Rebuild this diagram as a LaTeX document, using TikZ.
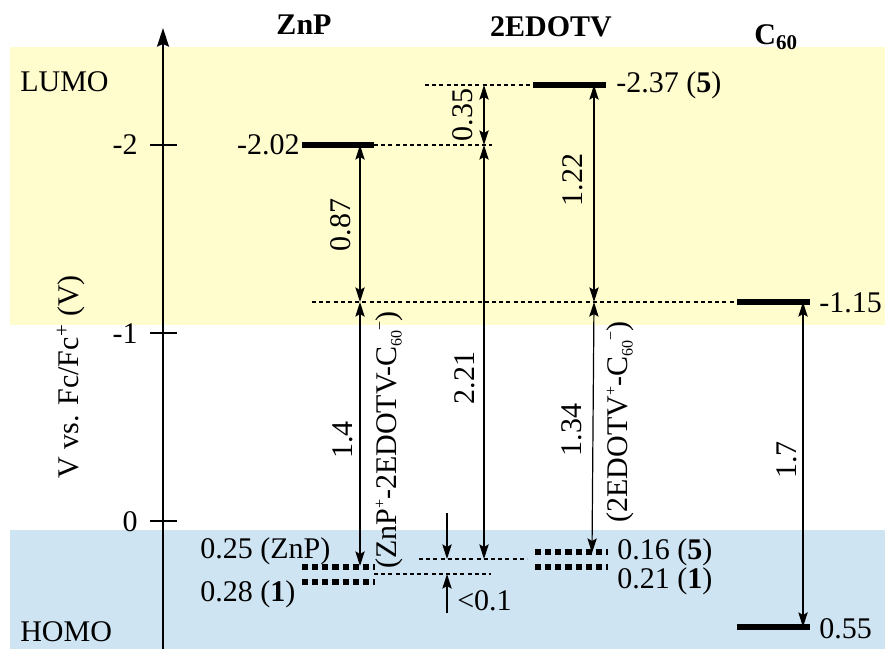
\documentclass[tikz,border=0pt]{standalone}
\usepackage{fontspec}
\setmainfont{Liberation Serif}
\usetikzlibrary{arrows.meta}
\definecolor{lumoY}{RGB}{255,252,206}
\definecolor{homoB}{RGB}{207,228,242}
\newcommand{\lvup}[1]{\raisebox{8.5pt}{\fontsize{12}{12}\selectfont #1}}
\newcommand{\lvdn}[1]{\raisebox{-4pt}{\fontsize{12}{12}\selectfont #1}}
\tikzset{
  lvl/.style={line width=3.8pt},
  dlvl/.style={line width=4.4pt,dash pattern=on 4.6pt off 3pt},
  guide/.style={line width=1pt,dash pattern=on 3pt off 2.4pt},
  tip/.style={-{Stealth[length=11pt,width=7pt,inset=2pt]}},
  dbl/.style={line width=0.9pt,{Stealth[length=11pt,width=7pt,inset=2pt]}-{Stealth[length=11pt,width=7pt,inset=2pt]}},
  one/.style={line width=0.9pt,tip},
  lbl/.style={font=\fontsize{22.5}{26}\selectfont,inner sep=0pt},
  rlbl/.style={lbl,rotate=90},
  hdr/.style={lbl,font=\fontsize{22.5}{26}\selectfont\bfseries}
}
\begin{document}
\begin{tikzpicture}[x=0.75pt,y=-0.75pt]
\useasboundingbox (0,0) rectangle (885,649);
% bands
\fill[lumoY] (10,47) rectangle (885,325);
\fill[homoB] (10,530) rectangle (885,649);
\node[lbl,anchor=base west] (lumo) at (20,92) {LUMO};
\node[lbl,anchor=base west] (homo) at (20,641) {HOMO};
% axis
\coordinate (axb) at (163,649);
\coordinate (axt) at (163,28);
\draw[line width=1.1pt,-{Stealth[length=14pt,width=9pt,inset=2pt]}] (axb) -- (axt);
\foreach \v/\y in {-2/145,-1/333,0/521}{
  \draw[line width=1.1pt] (150,\y) -- (177,\y);
  \node[lbl,anchor=base east] at (138,\y+10) {\v};
}
\node[rlbl] (ylab) at (71,377) {V vs. Fc/Fc\textsuperscript{+} (V)};
% headers
\node[hdr,anchor=base] (hz) at (304,35) {ZnP};
\node[hdr,anchor=base] (he) at (551,37) {2EDOTV};
\node[hdr,anchor=base] (hc) at (776,45) {C\textsubscript{60}};
% coordinates
\coordinate (zL1) at (302,145); \coordinate (zL2) at (374,145);
\coordinate (eL1) at (533,85);  \coordinate (eL2) at (606,85);
\coordinate (cL1) at (737,302); \coordinate (cL2) at (810,302);
\coordinate (cH1) at (737,627); \coordinate (cH2) at (810,627);
% guide lines
\coordinate (g1) at (425,85);
\coordinate (g2) at (492,145);
\coordinate (g3) at (312,302);
\coordinate (g4) at (419,559); \coordinate (g5) at (527,559);
\coordinate (g6) at (374,574); \coordinate (g7) at (491,574);
\draw[guide] (g1) -- (eL1);
\draw[guide] (zL2) -- (g2);
\draw[guide] (g3) -- (cL1);
\draw[guide] (g4) -- (g5);
\draw[guide] (g6) -- (g7);
% levels
\draw[lvl] (zL1) -- (zL2);
\draw[lvl] (eL1) -- (eL2);
\draw[lvl] (cL1) -- (cL2);
\draw[lvl] (cH1) -- (cH2);
\draw[dlvl] (302,567) -- (375,567);
\draw[dlvl] (302,582) -- (375,582);
\draw[dlvl] (535,552) -- (608,552);
\draw[dlvl] (535,567) -- (608,567);
% level labels
\node[lbl,anchor=base east] (t202) at (300,155) {-2.02};
\node[lbl,anchor=base west] (t237) at (616,93) {-2.37 (\textbf{5})};
\node[lbl,anchor=base west] (t115) at (819,312) {-1.15};
\node[lbl,anchor=base west] (t055) at (819,638) {0.55};
\node[lbl,anchor=base west] (t025) at (200,558) {0.25 (ZnP)};
\node[lbl,anchor=base west] (t028) at (200,601) {0.28 (\textbf{1})};
\node[lbl,anchor=base west] (t016) at (617,559) {0.16 (\textbf{5})};
\node[lbl,anchor=base west] (t021) at (617,588) {0.21 (\textbf{1})};
\node[lbl,anchor=base west] (t01) at (457,610) {<0.1};
% arrows
\coordinate (a35t) at (484,85);  \coordinate (a35b) at (484,145);
\coordinate (a221b) at (484,559);
\coordinate (a87t) at (360,145); \coordinate (a87b) at (360,302);
\coordinate (a14b) at (360,566);
\coordinate (a122t) at (594,85); \coordinate (a122b) at (594,302);
\coordinate (a134b) at (592,553);
\coordinate (a17t) at (803,302); \coordinate (a17b) at (803,627);
\coordinate (s1t) at (447,513); \coordinate (s1b) at (447,559);
\coordinate (s2t) at (447,574); \coordinate (s2b) at (447,613);
\draw[dbl] (a35t) -- (a35b);
\draw[dbl] (a35b) -- (a221b);
\draw[dbl] (a87t) -- (a87b);
\draw[dbl] (a87b) -- (a14b);
\draw[dbl] (a122t) -- (a122b);
\draw[dbl] (a122b) -- (a134b);
\draw[dbl] (a17t) -- (a17b);
\draw[one] (s1t) -- (s1b);
\draw[one] (s2b) -- (s2t);
% arrow labels
\node[rlbl] (n035) at (463,115) {0.35};
\node[rlbl] (n087) at (341,225) {0.87};
\node[rlbl] (n122) at (573,180) {1.22};
\node[rlbl] (n221) at (465,378) {2.21};
\node[rlbl] (n14) at (343,440) {1.4};
\node[rlbl] (n134) at (572,430) {1.34};
\node[rlbl] (n17) at (787,460) {1.7};
\node[rlbl] (nz) at (389,440) {(ZnP\lvup{+}-2EDOTV-C\lvdn{60}\lvup{−})};
\node[rlbl] (ne) at (620,422) {(2EDOTV\lvup{+}-C\lvdn{60}\lvup{−})};
\end{tikzpicture}
\end{document}
